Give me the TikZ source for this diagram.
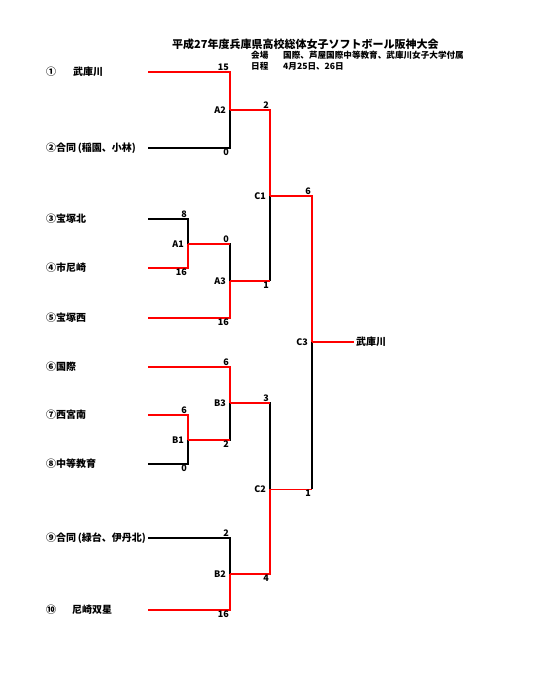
\documentclass[tikz,border=0pt]{standalone}
\usepackage{fontspec}
\setmainfont{Noto Sans CJK JP}
\usepackage{tikz}
\usetikzlibrary{positioning,calc}

\tikzset{
  win/.style={draw=red, line width=1.7pt},
  lose/.style={draw=black, line width=1.7pt},
  team/.style={anchor=west, inner sep=0pt, font=\fontsize{10}{12}\selectfont\bfseries},
  score/.style={inner sep=1pt, font=\fontsize{9}{10}\selectfont\bfseries},
  game/.style={left, inner sep=4pt, font=\fontsize{9}{10}\selectfont\bfseries},
  head/.style={anchor=west, inner sep=0pt, font=\fontsize{11}{12}\selectfont\bfseries},
  info/.style={anchor=west, inner sep=0pt, font=\fontsize{8.6}{10}\selectfont\bfseries}
}

\begin{document}
\begin{tikzpicture}[x=1pt, y=-1pt]
    \useasboundingbox[fill=white] (0,0) rectangle (550,673);

    % 見出し
    \node[head] (title) at (172,44) {平成27年度兵庫県高校総体女子ソフトボール阪神大会};
    \node[info] (venue) at (251,55) {会場};
    \node[info] (venuetext) at (283,55) {国際、芦屋国際中等教育、武庫川女子大学付属};
    \node[info] (date) at (251,66) {日程};
    \node[info] (datetext) at (283,66) {4月25日、26日};

    % 出場校
    \foreach \n/\y/\name in {1/72/{①\hspace{17pt}武庫川}, 2/148/{②合同\,(稲園、小林)},
        3/219/{③宝塚北}, 4/268/{④市尼崎}, 5/318/{⑤宝塚西}, 6/367/{⑥国際},
        7/415/{⑦西宮南}, 8/464/{⑧中等教育}, 9/538/{⑨合同\,(緑台、伊丹北)},
        10/610/{⑩\hspace{16pt}尼崎双星}} {
        \node[team] (t\n) at (46,\y) {\name};
        \coordinate (p\n) at (148,\y);
    }

    % 試合
    \coordinate (A1) at (188,244);
    \coordinate (A2) at (230,110);
    \coordinate (A3) at (230,281);
    \coordinate (B1) at (188,440);
    \coordinate (B3) at (230,403);
    \coordinate (B2) at (230,574);
    \coordinate (C1) at (270,196);
    \coordinate (C2) at (270,489);
    \coordinate (C3) at (312,342);

    % 1回戦
    \draw[lose] (p3) -| (A1);
    \draw[win] (p4) -| (A1);
    \draw[win] (p7) -| (B1);
    \draw[lose] (p8) -| (B1);

    % 2回戦
    \draw[win] (p1) -| (A2);
    \draw[lose] (p2) -| (A2);
    \draw[lose] (A1) -| (A3);
    \draw[win] (A1) -- (A1 -| A3);
    \draw[win] (p5) -| (A3);
    \draw[win] (p6) -| (B3);
    \draw[lose] (B1) -| (B3);
    \draw[win] (B1) -- (B1 -| B3);
    \draw[lose] (p9) -| (B2);
    \draw[win] (p10) -| (B2);

    % 準決勝
    \draw[win] (A2) -| (C1);
    \draw[lose] (A3 -| C1) -- (C1);
    \draw[win] (A3) -- (A3 -| C1);
    \draw[lose] (B3) -| (C2);
    \draw[win] (B3) -- (B3 -| C2);
    \draw[win] (B2) -| (C2);

    % 決勝
    \draw[win] (C1) -| (C3);
    \draw[lose] (C2 -| C3) -- (C3);
    \draw[win, line width=1pt] (C2) -- (C2 -| C3);
    \node[team, inner sep=2pt] (winner) at (354,342) {武庫川};
    \draw[win] (C3) -- (winner.west);

    % 得点
    \node[score, above left] (s1) at (p1 -| A2) {15};
    \node[score, below left] (s2) at (p2 -| A2) {0};
    \node[score, above left] (s3) at (p3 -| A1) {8};
    \node[score, below left] (s4) at (p4 -| A1) {16};
    \node[score, above left] (s5) at (A1 -| A3) {0};
    \node[score, below left] (s6) at (p5 -| A3) {16};
    \node[score, above left] (s7) at (p6 -| B3) {6};
    \node[score, above left] (s8) at (p7 -| B1) {6};
    \node[score, below left] (s9) at (p8 -| B1) {0};
    \node[score, below left] (s10) at (B1 -| B3) {2};
    \node[score, above left] (s11) at (p9 -| B2) {2};
    \node[score, below left] (s12) at (p10 -| B2) {16};
    \node[score, above left] (s13) at (A2 -| C1) {2};
    \node[score, below left] (s14) at (A3 -| C1) {1};
    \node[score, above left] (s15) at (B3 -| C2) {3};
    \node[score, below left] (s16) at (B2 -| C2) {4};
    \node[score, above left] (s17) at (C1 -| C3) {6};
    \node[score, below left] (s18) at (C2 -| C3) {1};

    % 試合番号
    \foreach \g in {A1,A2,A3,B1,B2,B3,C1,C2,C3}
        \node[game] (l\g) at (\g) {\g};
\end{tikzpicture}
\end{document}
